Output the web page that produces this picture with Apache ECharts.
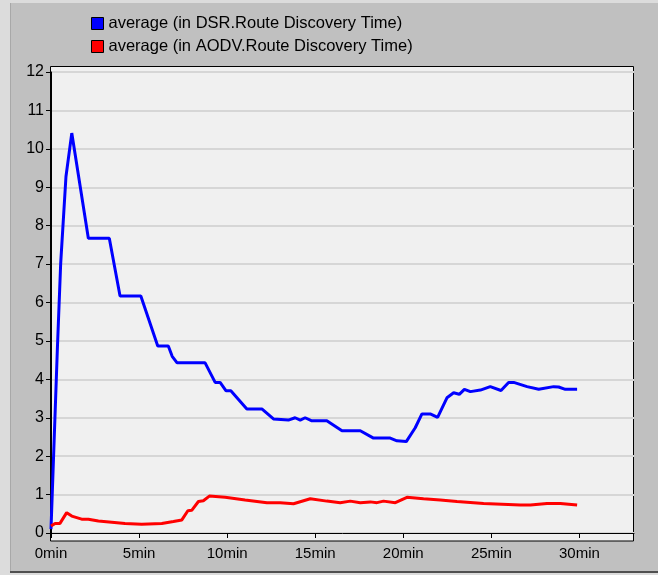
<!DOCTYPE html>
<html>
<head>
<meta charset="utf-8">
<script src="https://cdn.jsdelivr.net/npm/echarts@6/dist/echarts.min.js"></script>
<style>
  html, body { margin: 0; padding: 0; }
  #chart { width: 658px; height: 575px; }
</style>
</head>
<body>
<div id="chart"></div>
<script>
// series names
const seriesNames = ['average (in DSR.Route Discovery Time)', 'average (in AODV.Route Discovery Time)']

// DSR: time (min) and value
const dsrTime = [0, 0.36, 0.55, 0.85, 1.18, 2.12, 3.31, 3.92, 5.10, 6.06, 6.66, 6.88, 7.16, 8.75, 9.32, 9.60, 9.94, 10.21,
  11.12, 11.97, 12.63, 13.48, 13.86, 14.15, 14.43, 14.81, 15.66, 16.52, 17.56, 18.31, 19.26, 19.64, 20.17, 20.68,
  21.06, 21.53, 21.95, 22.48, 22.86, 23.18, 23.47, 23.81, 24.38, 24.94, 25.55, 25.98, 26.27, 27.03, 27.69, 28.54,
  28.82, 29.20, 29.87]
const dsrValue = [0.1, 4.77, 7.02, 9.28, 10.41, 7.67, 7.67, 6.17, 6.17, 4.87, 4.87, 4.6, 4.43, 4.43, 3.92, 3.92, 3.70, 3.70,
  3.23, 3.23, 2.97, 2.94, 3.00, 2.94, 3.00, 2.92, 2.92, 2.66, 2.66, 2.47, 2.47, 2.40, 2.38, 2.74,
  3.10, 3.10, 3.01, 3.52, 3.65, 3.61, 3.74, 3.68, 3.72, 3.81, 3.71, 3.92, 3.92, 3.81, 3.74, 3.81,
  3.80, 3.74, 3.74]

// AODV: time (min) and value
const aodvTime = [0, 0.23, 0.51, 0.89, 1.18, 1.74, 2.12, 2.69, 3.45, 4.20, 5.15, 6.29, 6.95, 7.43, 7.77, 7.99, 8.37, 8.65,
  8.99, 9.89, 11.02, 12.26, 13.01, 13.77, 14.72, 15.66, 16.42, 16.99, 17.56, 18.13, 18.51, 18.88, 19.55, 20.21,
  21.15, 22.10, 23.05, 24.56, 26.65, 27.22, 28.16, 28.92, 29.87]
const aodvValue = [0.18, 0.25, 0.25, 0.53, 0.44, 0.36, 0.36, 0.31, 0.28, 0.25, 0.23, 0.25, 0.30, 0.34, 0.58, 0.59, 0.82, 0.84,
  0.96, 0.93, 0.86, 0.79, 0.79, 0.76, 0.89, 0.83, 0.79, 0.83, 0.79, 0.81, 0.79, 0.83, 0.79, 0.93,
  0.89, 0.86, 0.82, 0.77, 0.73, 0.73, 0.77, 0.77, 0.73]

// tick labels
const xTicks = [0, 5, 10, 15, 20, 25, 30]

const pairs = (xs, ys) => xs.map((x, i) => [x, ys[i]])
const font = '"Liberation Sans", Arial, sans-serif'

const chart = echarts.init(document.getElementById('chart'))
var option = {
  backgroundColor: '#c0c0c0',
  animation: false,
  textStyle: { fontFamily: font },
  graphic: [
    // window frame
    { type: 'rect', z: -20, shape: { x: 0, y: 0, width: 10, height: 575 }, style: { fill: '#dcdcdc' } },
    { type: 'rect', z: -20, shape: { x: 0, y: 0, width: 658, height: 3 }, style: { fill: '#dcdcdc' } },
    { type: 'rect', z: -20, shape: { x: 10, y: 3, width: 1, height: 569 }, style: { fill: '#a8a8a8' } },
    { type: 'rect', z: -20, shape: { x: 0, y: 572, width: 658, height: 3 }, style: { fill: '#dcdcdc' } },
    { type: 'rect', z: -20, shape: { x: 10, y: 571, width: 648, height: 2 }, style: { fill: '#505050' } },
    // plot box
    {
      type: 'rect',
      z: -10,
      shape: { x: 50.5, y: 66.5, width: 583, height: 474.5 },
      style: { fill: '#f0f0f0', stroke: '#000', lineWidth: 1 }
    }
  ],
  legend: {
    orient: 'vertical',
    left: 86,
    top: 10,
    itemGap: 6,
    icon: 'rect',
    itemWidth: 12,
    itemHeight: 12,
    itemStyle: { borderColor: '#000', borderWidth: 1 },
    textStyle: { color: '#000', fontSize: 16.5, fontFamily: font },
    data: seriesNames
  },
  grid: { left: 51, right: 24, top: 72, bottom: 42 },
  xAxis: {
    type: 'value',
    min: 0,
    max: 33.1,
    offset: 8,
    axisLine: { lineStyle: { color: '#000', width: 1 } },
    axisTick: { length: 5, customValues: xTicks, lineStyle: { color: '#000' } },
    axisLabel: {
      customValues: xTicks,
      formatter: '{value}min',
      color: '#000',
      fontSize: 15,
      margin: 5
    },
    splitLine: { show: false }
  },
  yAxis: {
    type: 'value',
    min: 0,
    max: 12,
    interval: 1,
    axisLine: { show: true, lineStyle: { color: '#000', width: 1 } },
    axisTick: { show: true, length: 5, lineStyle: { color: '#000' } },
    axisLabel: { color: '#000', fontSize: 16, margin: 7 },
    splitLine: { lineStyle: { color: '#d6d6d6', width: 2 } }
  },
  series: [
    {
      name: seriesNames[0],
      type: 'line',
      showSymbol: false,
      color: '#0000ff',
      lineStyle: { width: 3, color: '#0000ff' },
      data: pairs(dsrTime, dsrValue)
    },
    {
      name: seriesNames[1],
      type: 'line',
      showSymbol: false,
      color: '#ff0000',
      lineStyle: { width: 3, color: '#ff0000' },
      data: pairs(aodvTime, aodvValue)
    }
  ]
}
chart.setOption(option)
</script>
</body>
</html>
